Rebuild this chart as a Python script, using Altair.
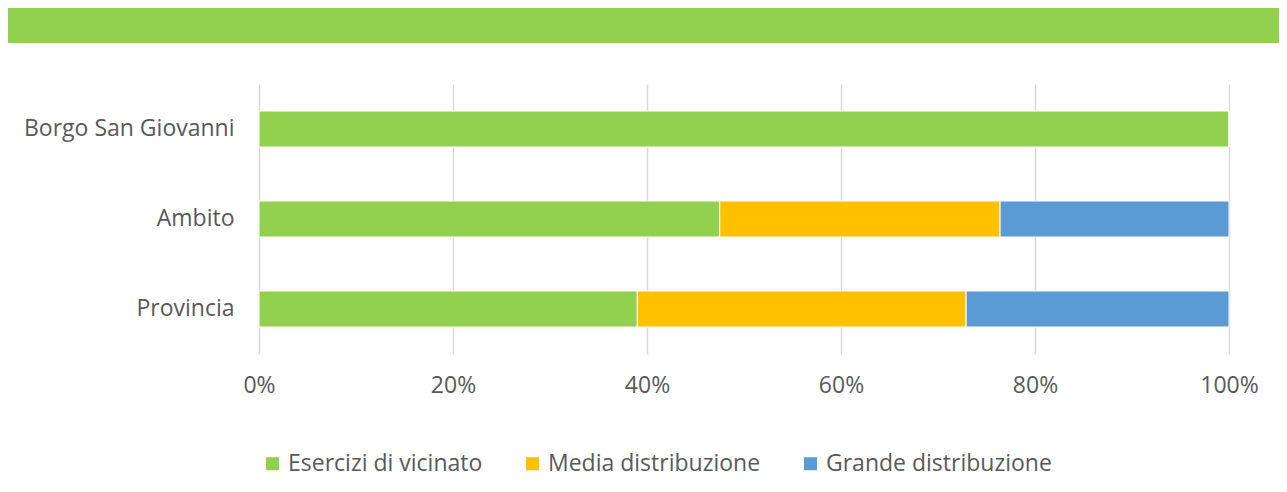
import altair as alt
import pandas as pd

categories = ["Borgo San Giovanni", "Ambito", "Provincia"]
series = ["Esercizi di vicinato", "Media distribuzione", "Grande distribuzione"]
vicinato = [1.000, 0.475, 0.390]
media = [0.000, 0.289, 0.339]
grande = [0.000, 0.236, 0.271]
colors = ["#92D050", "#FFC000", "#5B9BD5"]

rows = []
for i, c in enumerate(categories):
    for j, (s, vals) in enumerate(zip(series, [vicinato, media, grande])):
        rows.append({"cat": c, "serie": s, "val": vals[i], "ord": j})
df = pd.DataFrame(rows)

FONT = "Open Sans"
TXT = "#595959"
FS = 23

bars = alt.Chart(df).mark_bar(stroke="white", strokeWidth=1).encode(
    y=alt.Y("cat:N", sort=categories, title=None,
            scale=alt.Scale(paddingInner=0.6, paddingOuter=0.3),
            axis=alt.Axis(domain=False, ticks=False, labelFontSize=FS, labelColor=TXT,
                          labelFont=FONT, labelPadding=25, labelLimit=300)),
    x=alt.X("val:Q", stack="zero", title=None,
            scale=alt.Scale(domain=[0, 1], nice=False),
            axis=alt.Axis(format=".0%", values=[0, 0.2, 0.4, 0.6, 0.8, 1.0],
                          domain=False, ticks=False, grid=True, gridColor="#D9D9D9",
                          gridWidth=1.5, labelFontSize=FS, labelColor=TXT,
                          labelFont=FONT, labelPadding=20, labelFlush=False)),
    color=alt.Color("serie:N", sort=series,
                    scale=alt.Scale(domain=series, range=colors),
                    legend=alt.Legend(title=None, orient="none", direction="horizontal",
                                      legendX=2, legendY=368, symbolType="square",
                                      symbolSize=170, symbolStrokeWidth=0,
                                      labelFontSize=FS, labelColor=TXT, labelFont=FONT,
                                      labelOffset=4, columnPadding=38, labelLimit=400)),
    order=alt.Order("ord:Q"),
)

band = alt.Chart(pd.DataFrame({"k": [0]})).mark_rect(color="#92D050", clip=False).encode(
    x=alt.value(-251), x2=alt.value(1030), y=alt.value(-76), y2=alt.value(-41)
)

chart = alt.layer(band, bars).properties(
    width=970, height=270,
    padding={"left": 251, "top": 76, "right": 50, "bottom": 130},
    autosize=alt.AutoSizeParams(type="none"),
).configure_view(stroke=None)

chart.save("out.html", embed_options={"renderer": "svg", "actions": False})
